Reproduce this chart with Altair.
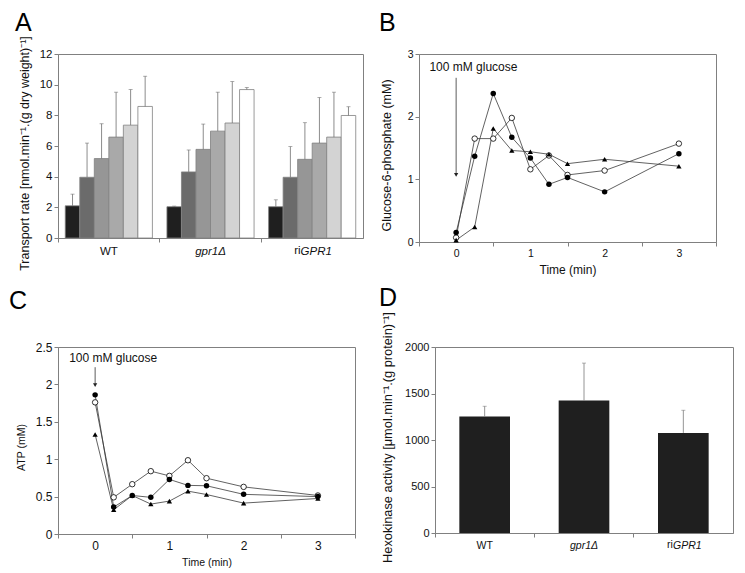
import altair as alt
import pandas as pd

FONT = "Liberation Sans"
GRAY = "#808080"
INK = "#111111"

# ---------------- Panel A data ----------------
groups = ["WT", "gpr1Δ", "riGPR1"]
series_a = ["1", "2", "3", "4", "5", "6"]
a_wt_mean = [2.10, 3.96, 5.18, 6.58, 7.36, 8.58]
a_wt_sd = [0.76, 2.23, 2.27, 2.93, 2.32, 1.97]
a_gpr_mean = [2.04, 4.31, 5.78, 6.97, 7.50, 9.68]
a_gpr_sd = [0.04, 1.43, 1.65, 2.54, 2.70, 0.13]
a_ri_mean = [2.04, 3.96, 5.13, 6.19, 6.58, 7.99]
a_ri_sd = [0.45, 2.00, 2.39, 2.97, 2.93, 0.57]
a_colors = ["#1f1f1f", "#6b6b6b", "#969696", "#a9a9a9", "#d3d3d3", "#ffffff"]

# ---------------- Panel B / C data ----------------
times = [0, 0.25, 0.5, 0.75, 1, 1.25, 1.5, 2, 3]
series_names = ["WT", "gpr1Δ", "riGPR1"]
b_filled = [0.15, 1.37, 2.37, 1.67, 1.34, 0.92, 1.03, 0.80, 1.41]
b_open = [0.07, 1.65, 1.65, 1.98, 1.16, 1.38, 1.07, 1.14, 1.57]
b_tri = [0.03, 0.24, 1.81, 1.46, 1.44, 1.40, 1.25, 1.32, 1.21]
c_filled = [1.86, 0.36, 0.515, 0.49, 0.73, 0.65, 0.645, 0.53, 0.50]
c_open = [1.76, 0.49, 0.666, 0.84, 0.777, 0.986, 0.746, 0.63, 0.515]
c_tri = [1.33, 0.324, 0.515, 0.40, 0.44, 0.573, 0.528, 0.413, 0.475]

# ---------------- Panel D data ----------------
d_mean = [1252, 1424, 1076]
d_sd = [111, 403, 244]


# ---------------- helpers ----------------
def letter(txt, dx, dy):
    return alt.Chart(pd.DataFrame({"label": [txt]})).mark_text(
        align="left", baseline="top", fontSize=25, font=FONT, color="#000000"
    ).encode(x=alt.value(dx), y=alt.value(dy), text="label:N")


def y_axis(title, values, padding, title_y, lsize, tsize):
    return alt.Axis(title=title, values=values, format="~r", grid=False, domainColor=GRAY,
                    tickColor=GRAY, tickSize=4, labelFontSize=lsize, labelFont=FONT, labelColor=INK,
                    labelPadding=2, titleFontSize=tsize, titleFont=FONT, titleFontWeight="normal",
                    titleColor=INK, titlePadding=padding, titleY=title_y, titleLimit=400,
                    labelFlush=False, labelOverlap=False)


label_style = {"condition": {"test": "datum.value !== 'WT'", "value": "italic"}, "value": "normal"}


def band_x_axis(lsize):
    return alt.Axis(title=None, grid=False, domainColor=GRAY, tickColor=GRAY, tickSize=4,
                    bandPosition=0, labelFontSize=lsize, labelFont=FONT, labelColor=INK,
                    labelPadding=3, labelAngle=0, labelFontStyle=label_style,
                    labelExpr="datum.value === 'riGPR1' ? 'GPR1' : datum.label",
                    labelOffset={"condition": {"test": "datum.value === 'riGPR1'", "value": 4},
                                 "value": 0})


def ri_prefix(xenc, h, lsize, dx):
    # upright "ri" prefix of the riGPR1 category label (rest of label is italic)
    return alt.Chart(pd.DataFrame({"group": ["riGPR1"], "pre": ["ri"]})).mark_text(
        align="right", baseline="top", fontSize=lsize, font=FONT, color=INK, dx=dx
    ).encode(x=xenc, y=alt.value(h + 7), text="pre:N")


# ---------------- Panel A ----------------
rows = []
for g, m, s in [(groups[0], a_wt_mean, a_wt_sd), (groups[1], a_gpr_mean, a_gpr_sd),
                (groups[2], a_ri_mean, a_ri_sd)]:
    for k, ser in enumerate(series_a):
        rows.append({"group": g, "series": ser, "mean": m[k], "sd": s[k]})
df_a = pd.DataFrame(rows)

xa = alt.X("group:N", sort=groups, scale=alt.Scale(paddingInner=0, paddingOuter=0),
           axis=band_x_axis(11.5))
xoa = alt.XOffset("series:N", sort=series_a, scale=alt.Scale(paddingInner=0, paddingOuter=0.5))
ya_scale = alt.Scale(domain=[0, 12], nice=False)
ya_axis = y_axis("Transport rate [nmol.min⁻¹.(g dry weight)⁻¹]", [0, 2, 4, 6, 8, 10, 12], 8, 99,
                 11.5, 12.5)

base_a = alt.Chart(df_a).transform_calculate(top="datum.mean + datum.sd")
bars_a = base_a.mark_bar(stroke=GRAY, strokeWidth=0.8).encode(
    x=xa, xOffset=xoa,
    y=alt.Y("mean:Q", scale=ya_scale, axis=ya_axis),
    fill=alt.Fill("series:N", sort=series_a, scale=alt.Scale(domain=series_a, range=a_colors), legend=None),
)
err_a = base_a.mark_rule(color="#6e6e6e", strokeWidth=0.8).encode(
    x=xa, xOffset=xoa, y=alt.Y("mean:Q", scale=ya_scale, axis=ya_axis), y2="top:Q")
cap_a = base_a.mark_tick(color="#6e6e6e", thickness=0.8, size=4).encode(
    x=xa, xOffset=xoa, y=alt.Y("top:Q", scale=ya_scale, axis=ya_axis))
panel_a = alt.layer(bars_a, err_a, cap_a, ri_prefix(xa, 184, 11.5, -11.5),
                    letter("A", -43, -43)).properties(width=305, height=184)


# ---------------- Panel B / C ----------------
def time_df(f, o, t):
    out = []
    for name, vals, shape in [(series_names[0], f, "filled"), (series_names[1], o, "open"),
                              (series_names[2], t, "tri")]:
        for i, tt in enumerate(times):
            out.append({"series": name, "kind": shape, "t": tt, "v": vals[i]})
    return pd.DataFrame(out)


def x_time_axis(lsize, tsize):
    return alt.Axis(title="Time (min)", values=[-0.5, 0, 0.5, 1, 1.5, 2, 2.5, 3, 3.5], format="~r",
                    grid=False, domainColor=GRAY, tickColor=GRAY, tickSize=4,
                    tickOpacity={"condition": {"test": "datum.value % 1 === 0", "value": 0}, "value": 1},
                    labelExpr="datum.value % 1 === 0 ? datum.label : ''",
                    labelFontSize=lsize, labelFont=FONT, labelColor=INK, labelPadding=2,
                    labelFlush=False, labelOverlap=False,
                    titleFontSize=tsize, titleFont=FONT, titleFontWeight="normal", titleColor=INK,
                    titlePadding=6)


def time_panel(df, ytitle, ydom, yvals, ypad, title_y, arrow, txt, letter_txt, ldx, ldy, w, h,
               lsize, xtsize, ytsize):
    xs = alt.X("t:Q", scale=alt.Scale(domain=[-0.5, 3.5], nice=False), axis=x_time_axis(lsize, xtsize))
    yscale = alt.Scale(domain=ydom, nice=False)
    yax = y_axis(ytitle, yvals, ypad, title_y, lsize, ytsize)
    ys = alt.Y("v:Q", scale=yscale, axis=yax)
    base = alt.Chart(df)
    lines = base.mark_line(color="#3a3a3a", strokeWidth=0.8).encode(
        x=xs, y=ys, detail="series:N", order="t:Q")
    pf = base.transform_filter("datum.kind === 'filled'").mark_point(
        shape="circle", filled=True, size=30, color="#000000", opacity=1).encode(x=xs, y=ys)
    po = base.transform_filter("datum.kind === 'open'").mark_point(
        shape="circle", filled=True, size=30, fill="#ffffff", stroke="#000000", strokeWidth=0.8,
        opacity=1).encode(x=xs, y=ys)
    pt = base.transform_filter("datum.kind === 'tri'").mark_point(
        shape="triangle-up", filled=True, size=28, color="#000000", opacity=1).encode(x=xs, y=ys)
    adf = pd.DataFrame([{"t": 0, "v": arrow[0], "v2": arrow[1]}])
    arr = alt.Chart(adf).mark_rule(color="#333333", strokeWidth=0.8).encode(
        x=xs, y=ys, y2="v2:Q")
    head = alt.Chart(adf).mark_point(shape="triangle-down", filled=True, size=18,
                                     color="#222222", opacity=1).encode(
        x=xs, y=alt.Y("v2:Q", scale=yscale, axis=yax))
    tdf = pd.DataFrame([{"t": txt[0], "v": txt[1], "label": "100 mM glucose"}])
    text = alt.Chart(tdf).mark_text(align="left", baseline="alphabetic", fontSize=12, font=FONT,
                                    color=INK).encode(x=xs, y=ys, text="label:N")
    return alt.layer(lines, arr, head, po, pf, pt, text,
                     letter(letter_txt, ldx, ldy)).properties(width=w, height=h)


panel_b = time_panel(time_df(b_filled, b_open, b_tri), "Glucose-6-phosphate (mM)", [0, 3],
                     [0, 1, 2, 3], 14, 101, (2.62, 1.07), (-0.36, 2.73), "B", -40, -43, 297, 188,
                     10.5, 12, 12.5)
panel_c = time_panel(time_df(c_filled, c_open, c_tri), "ATP (mM)", [0, 2.5],
                     [0, 0.5, 1, 1.5, 2, 2.5], 9, 100, (2.23, 1.99), (-0.35, 2.30), "C", -49, -58,
                     297, 187, 12, 10.5, 10.5)

# ---------------- Panel D ----------------
df_d = pd.DataFrame({"group": groups, "mean": d_mean, "sd": d_sd})
xd = alt.X("group:N", sort=groups, scale=alt.Scale(paddingInner=0, paddingOuter=0),
           axis=band_x_axis(10.5))
yd_scale = alt.Scale(domain=[0, 2000], nice=False)
yd_axis = y_axis("Hexokinase activity [μmol.min⁻¹.(g protein)⁻¹]", [0, 500, 1000, 1500, 2000], 10, 90,
                 11, 12.8)
base_d = alt.Chart(df_d).transform_calculate(top="datum.mean + datum.sd")
bars_d = base_d.mark_bar(color="#1f1f1f", width=alt.RelativeBandSize(0.51)).encode(
    x=xd, y=alt.Y("mean:Q", scale=yd_scale, axis=yd_axis))
err_d = base_d.mark_rule(color="#7a7a7a", strokeWidth=0.8).encode(
    x=xd, y=alt.Y("mean:Q", scale=yd_scale, axis=yd_axis), y2="top:Q")
cap_d = base_d.mark_tick(color="#7a7a7a", thickness=0.8, size=4).encode(
    x=xd, y=alt.Y("top:Q", scale=yd_scale, axis=yd_axis))
panel_d = alt.layer(bars_d, err_d, cap_d, ri_prefix(xd, 186, 10.5, -10.5),
                    letter("D", -56, -61)).properties(width=298, height=186)

row1 = alt.hconcat(panel_a, panel_b, spacing=14)
row2 = alt.hconcat(panel_c, panel_d, spacing=22)
chart = alt.vconcat(row1, row2, spacing=9).properties(
    padding={"left": 0, "top": 2, "right": 0, "bottom": 0}
).configure(font=FONT, view=alt.ViewConfig(stroke=GRAY, strokeWidth=1))

chart.save("out.html", embed_options={"renderer": "svg", "actions": False})
